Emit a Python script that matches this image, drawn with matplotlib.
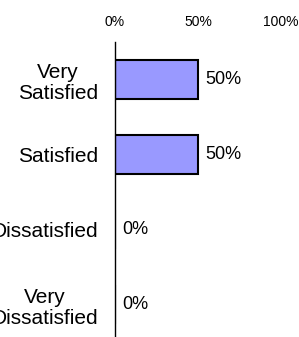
import matplotlib
matplotlib.use("Agg")
import matplotlib.pyplot as plt

# data
categories = ["Very\nSatisfied", "Satisfied", "Dissatisfied", "Very\nDissatisfied"]
percents = [50, 50, 0, 0]
tick_values = [0, 50, 100]
tick_labels = ["0%", "50%", "100%"]

plt.rcParams["font.family"] = ["Liberation Sans", "DejaVu Sans"]

W, H = 299, 337
fig = plt.figure(figsize=(W / 100, H / 100), dpi=100)
# axis runs from x=115 to x=281, top at y=42, bottom just below the picture
ax = fig.add_axes([115 / W, (H - 342.5) / H, 166 / W, (342.5 - 42) / H])

ypos = list(range(len(categories)))
ax.barh(ypos, percents, height=0.52, color="#9999FF", edgecolor="black", linewidth=1.5)

for y, v in zip(ypos, percents):
    ax.annotate(f"{v}%", xy=(v, y), xytext=(5.5, 0), textcoords="offset points",
                va="center", ha="left", fontsize=13)

ax.set_xlim(0, 100)
ax.set_ylim(len(categories) - 0.5, -0.5)

ax.xaxis.tick_top()
ax.set_xticks(tick_values)
ax.set_xticklabels(tick_labels, fontsize=10)
ax.tick_params(axis="x", length=0, pad=9.5)

ax.set_yticks(ypos)
ax.set_yticklabels(categories, fontsize=15, multialignment="center", linespacing=1.15)
ax.tick_params(axis="y", length=0, pad=12)

for side in ["top", "right", "bottom"]:
    ax.spines[side].set_visible(False)
ax.spines["left"].set_linewidth(1.0)
ax.patch.set_visible(False)

fig.savefig("out.png", dpi=100)
